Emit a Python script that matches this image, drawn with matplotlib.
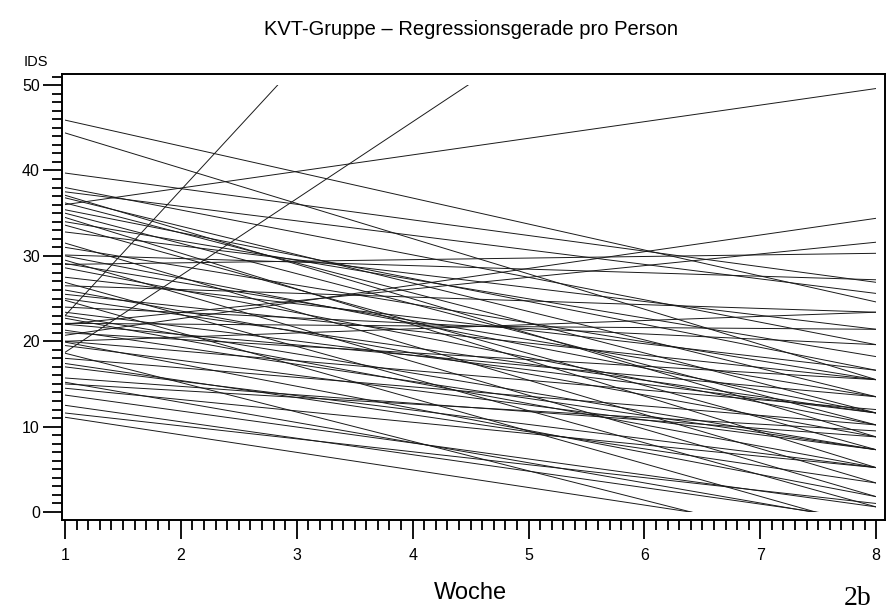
import numpy as np
import matplotlib.pyplot as plt
from matplotlib.patches import Rectangle
from matplotlib.ticker import MultipleLocator

plt.rcParams['font.family'] = ['Liberation Sans', 'DejaVu Sans']

# weeks where each regression line is evaluated
woche = [1, 8]

# fitted IDS per person at week 1 and week 8
ids_w1 = [23.0, 18.7, 36.0, 20.7, 22.0, 29.0, 20.0, 22.1,
          45.9, 44.4, 39.7, 38.0, 37.5, 37.1, 36.8, 36.2, 35.4, 35.0,
          34.5, 34.0, 33.6, 32.8, 31.5, 31.0, 30.1, 30.0, 29.5, 29.1,
          28.6, 27.5, 26.9, 26.5, 26.0, 25.5, 25.0, 24.8, 24.0, 23.4,
          23.0, 22.7, 22.0, 21.3, 21.0, 20.0, 19.9, 19.5, 18.6, 18.0,
          17.4, 17.0, 15.7, 15.2, 15.0, 14.5, 13.7, 12.5, 11.6, 11.1]
ids_w8 = [126.0, 81.7, 49.6, 34.4, 31.6, 30.3, 23.4, 21.4,
          24.6, 15.5, 26.9, 19.6, 25.6, 8.8, 13.5, 11.6, 16.6, 10.2,
          5.2, 18.2, 7.3, 21.4, 3.4, 15.5, 27.2, 11.6, 1.8, 13.5,
          10.2, 16.6, 0.6, 23.4, 8.8, 15.5, 11.6, -2.0, 19.6, 11.6,
          7.3, 5.2, 13.5, 7.3, 15.5, 12.0, 1.8, 7.3, -5.5, 10.2,
          3.4, 5.2, 8.8, -1.3, 9.5, 5.2, 0.6, -1.0, 1.0, -3.3]

fig = plt.figure(figsize=(8.92, 6.14), dpi=100)
ax = fig.add_axes([0.0695, 0.153, 0.9225, 0.7265])

# the scale of the IDS runs from 0 to 50, lines are cut there
clip = Rectangle((1, 0), 7, 50, transform=ax.transData, fill=False)
for a, b in zip(ids_w1, ids_w8):
    ln, = ax.plot(woche, [a, b], color='0.1', lw=0.7)
    ln.set_clip_path(clip)

ax.set_xlim(0.974, 8.075)
ax.set_ylim(-0.94, 51.3)

ax.xaxis.set_major_locator(MultipleLocator(1))
ax.xaxis.set_minor_locator(MultipleLocator(0.1))
ax.yaxis.set_major_locator(MultipleLocator(10))
ax.yaxis.set_minor_locator(MultipleLocator(1))
ax.tick_params(axis='both', which='major', direction='out', length=14,
               width=1.3, labelsize=11.5, color='black')
ax.tick_params(axis='both', which='minor', direction='out', length=7,
               width=1.3, color='black')
ax.tick_params(axis='x', pad=6)
ax.tick_params(axis='y', pad=2)

for s in ax.spines.values():
    s.set_linewidth(1.4)

fig.text(0.528, 0.952, 'KVT-Gruppe – Regressionsgerade pro Person',
         ha='center', va='center', fontsize=14.5)
fig.text(0.026, 0.899, 'IDS', ha='left', va='center', fontsize=10.5)
fig.text(0.527, 0.035, 'Woche', ha='center', va='center', fontsize=17)
fig.text(0.962, 0.025, '2b', ha='center', va='center', fontsize=20,
         family=['Liberation Serif', 'DejaVu Serif'])

fig.savefig('out.png', dpi=100)
